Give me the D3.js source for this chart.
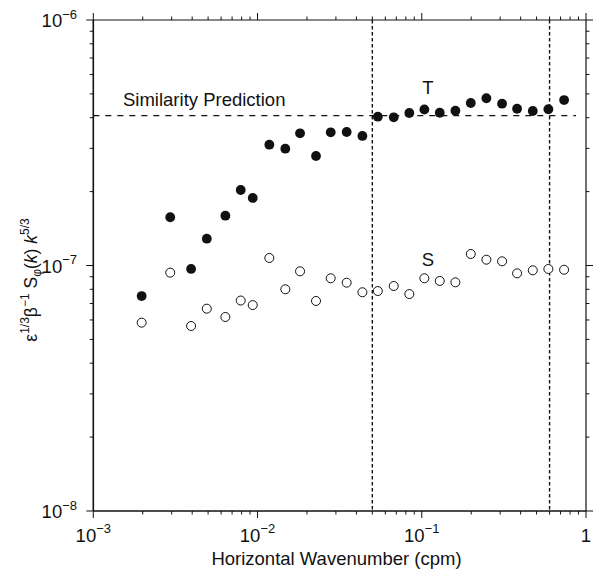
<!DOCTYPE html>
<html>
<head>
<meta charset="utf-8">
<script src="https://cdn.jsdelivr.net/npm/d3@7"></script>
<style>
  html, body { margin: 0; padding: 0; background: #fff; }
  svg text { font-family: "Liberation Sans", Arial, Helvetica, sans-serif; fill: #111; }
</style>
</head>
<body>
<svg id="chart" width="593" height="571"></svg>
<script>
// Horizontal wavenumber (cpm) of each spectral estimate
const wavenumber = [0.00197, 0.00294, 0.00394, 0.00491, 0.00637, 0.0079, 0.00935,
  0.0118, 0.01476, 0.01815, 0.0227, 0.0279, 0.0349, 0.0435, 0.054, 0.0675, 0.084,
  0.1037, 0.1287, 0.1602, 0.1988, 0.2474, 0.3083, 0.3805, 0.4742, 0.590, 0.7356];

// Compensated temperature spectrum (filled circles)
const tempSpectrum = [7.51e-8, 1.572e-7, 9.68e-8, 1.286e-7, 1.595e-7, 2.03e-7, 1.884e-7,
  3.105e-7, 2.99e-7, 3.455e-7, 2.793e-7, 3.487e-7, 3.497e-7, 3.37e-7, 4.037e-7, 4.015e-7, 4.18e-7,
  4.32e-7, 4.19e-7, 4.27e-7, 4.59e-7, 4.80e-7, 4.56e-7, 4.35e-7, 4.26e-7, 4.33e-7, 4.72e-7];

// Compensated salinity spectrum (open circles)
const saltSpectrum = [5.85e-8, 9.35e-8, 5.67e-8, 6.67e-8, 6.17e-8, 7.2e-8, 6.9e-8,
  1.073e-7, 8.0e-8, 9.47e-8, 7.17e-8, 8.87e-8, 8.51e-8, 7.78e-8, 7.87e-8, 8.25e-8, 7.65e-8,
  8.87e-8, 8.65e-8, 8.54e-8, 1.114e-7, 1.056e-7, 1.04e-7, 9.29e-8, 9.56e-8, 9.68e-8, 9.61e-8];

const similarityLevel = 4.08e-7;          // similarity prediction
const bandLimits = [0.05, 0.6];           // wavenumber band bounds
const xDomain = [1e-3, 1];
const yDomain = [1e-8, 1e-6];
const xMajorTicks = [1e-3, 1e-2, 1e-1, 1];
const xTickLabels = [["10", "−3"], ["10", "−2"], ["10", "−1"], ["1", ""]];
const yMajorTicks = [1e-8, 1e-7, 1e-6];
const yTickLabels = [["10", "−8"], ["10", "−7"], ["10", "−6"]];

const svg = d3.select("#chart");
const plotL = 93.3, plotR = 586, plotT = 20, plotB = 511;
const fs = 18.5, fsSup = 13;

const x = d3.scaleLog().domain(xDomain).range([plotL, plotR]);
const y = d3.scaleLog().domain(yDomain).range([plotB, plotT]);

const isMajor = v => Math.abs(Math.log10(v) - Math.round(Math.log10(v))) < 1e-6;
const ink = "#111";

// frame
const frame = svg.append("g").attr("stroke", ink).attr("fill", "none");
frame.append("line").attr("x1", plotL).attr("x2", plotR).attr("y1", plotB).attr("y2", plotB).attr("stroke-width", 1.4);
frame.append("line").attr("x1", plotL).attr("x2", plotR).attr("y1", plotT).attr("y2", plotT).attr("stroke-width", 1.2);
frame.append("line").attr("x1", plotL).attr("x2", plotL).attr("y1", plotT).attr("y2", plotB).attr("stroke-width", 1.6);
frame.append("line").attr("x1", plotR).attr("x2", plotR).attr("y1", plotT).attr("y2", plotB).attr("stroke-width", 1.2);

// ticks, pointing outward on all four sides
const xt = x.ticks();
const yt = y.ticks();
const tk = svg.append("g").attr("stroke", ink).attr("stroke-width", 1);
xt.forEach(v => {
  const len = isMajor(v) ? 7 : 3.5;
  tk.append("line").attr("x1", x(v)).attr("x2", x(v)).attr("y1", plotB).attr("y2", plotB + len);
  tk.append("line").attr("x1", x(v)).attr("x2", x(v)).attr("y1", plotT).attr("y2", plotT - len);
});
yt.forEach(v => {
  const len = isMajor(v) ? 7 : 3.5;
  tk.append("line").attr("x1", plotL).attr("x2", plotL - len).attr("y1", y(v)).attr("y2", y(v));
  tk.append("line").attr("x1", plotR).attr("x2", plotR + len).attr("y1", y(v)).attr("y2", y(v));
});

// tick labels with superscript exponents
function powerLabel(sel, base, exp) {
  sel.append("tspan").text(base);
  if (exp) sel.append("tspan").attr("dy", -8.5).attr("font-size", fsSup).text(exp);
}
xMajorTicks.forEach((v, i) => {
  const t = svg.append("text").attr("x", x(v)).attr("y", 541.5)
    .attr("text-anchor", "middle").attr("font-size", fs);
  powerLabel(t, xTickLabels[i][0], xTickLabels[i][1]);
});
yMajorTicks.forEach((v, i) => {
  const t = svg.append("text").attr("x", 77).attr("y", y(v) + 7)
    .attr("text-anchor", "end").attr("font-size", fs);
  powerLabel(t, yTickLabels[i][0], yTickLabels[i][1]);
});

// axis titles
svg.append("text").attr("x", 336.5).attr("y", 565).attr("text-anchor", "middle")
  .attr("font-size", fs).text("Horizontal Wavenumber (cpm)");

const yt1 = svg.append("text").attr("transform", "translate(37,280) rotate(-90)")
  .attr("text-anchor", "middle").attr("font-size", 17.5);
yt1.append("tspan").text("ε");
yt1.append("tspan").attr("dy", -8).attr("font-size", 12).text("1/3");
yt1.append("tspan").attr("dy", 8).text("β");
yt1.append("tspan").attr("dy", -8).attr("font-size", 12).text("−1");
yt1.append("tspan").attr("dy", 8).text(" S");
yt1.append("tspan").attr("dy", 4).attr("font-size", 12).text("φ");
yt1.append("tspan").attr("dy", -4).text("(");
yt1.append("tspan").attr("font-style", "italic").text("k");
yt1.append("tspan").text(") ");
yt1.append("tspan").attr("font-style", "italic").text("k");
yt1.append("tspan").attr("dy", -8).attr("font-size", 12).text("5/3");

// similarity prediction level
svg.append("line")
  .attr("x1", x(xDomain[0])).attr("x2", 576)
  .attr("y1", y(similarityLevel)).attr("y2", y(similarityLevel))
  .attr("stroke", ink).attr("stroke-width", 1.3).attr("stroke-dasharray", "6,6");
svg.append("text").attr("x", 123).attr("y", 106).attr("font-size", fs).text("Similarity Prediction");

// band limits
svg.selectAll("line.band").data(bandLimits).enter().append("line")
  .attr("class", "band")
  .attr("x1", d => x(d)).attr("x2", d => x(d))
  .attr("y1", plotT).attr("y2", plotB)
  .attr("stroke", ink).attr("stroke-width", 1.4).attr("stroke-dasharray", "3.5,2.5");

// spectra
const tPts = wavenumber.map((k, i) => [k, tempSpectrum[i]]);
const sPts = wavenumber.map((k, i) => [k, saltSpectrum[i]]);

svg.append("g").selectAll("circle").data(sPts).enter().append("circle")
  .attr("cx", d => x(d[0])).attr("cy", d => y(d[1])).attr("r", 4.5)
  .attr("fill", "#fff").attr("stroke", ink).attr("stroke-width", 1);

svg.append("g").selectAll("circle").data(tPts).enter().append("circle")
  .attr("cx", d => x(d[0])).attr("cy", d => y(d[1])).attr("r", 4.9)
  .attr("fill", ink);

// series labels
svg.append("text").attr("x", 428).attr("y", 94).attr("text-anchor", "middle").attr("font-size", fs).text("T");
svg.append("text").attr("x", 428).attr("y", 266).attr("text-anchor", "middle").attr("font-size", fs).text("S");
</script>
</body>
</html>
